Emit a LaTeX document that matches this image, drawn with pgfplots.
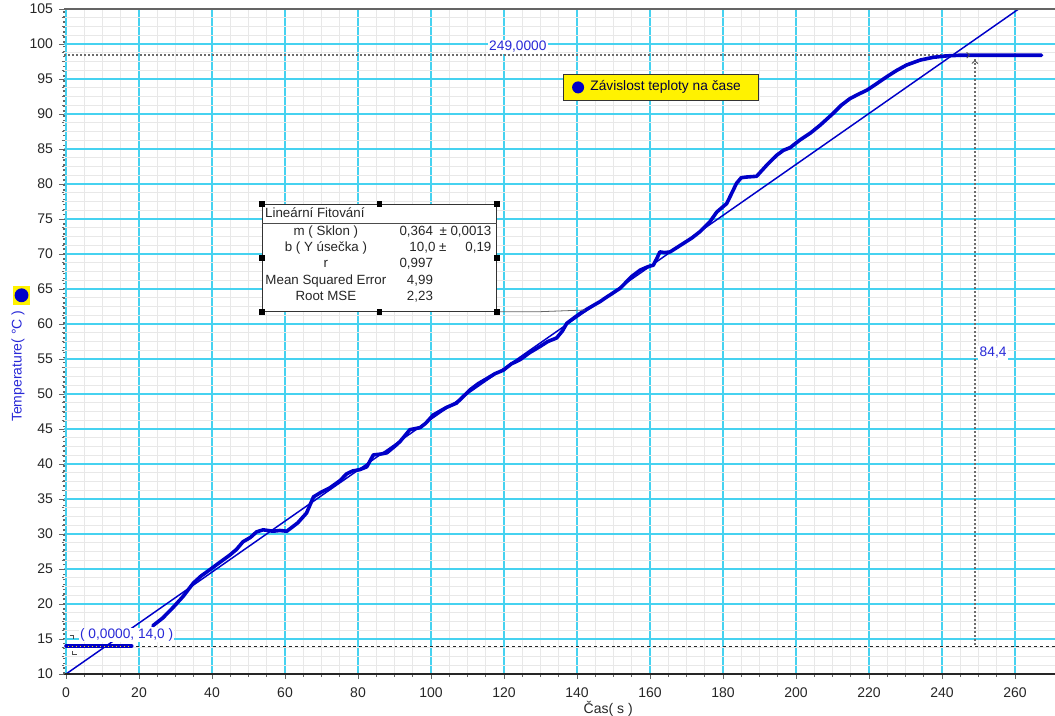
\documentclass[border=0pt]{standalone}
\usepackage{fontspec}
\setmainfont{Liberation Sans}
\usepackage{pgfplots}
\pgfplotsset{compat=1.18}
\definecolor{gridmaj}{RGB}{70,210,240}
\definecolor{gridmin}{RGB}{232,232,232}
\definecolor{dblue}{RGB}{0,0,200}
\definecolor{lblue}{RGB}{40,40,215}
\definecolor{axgray}{RGB}{100,100,100}

\pgfplotstableread{
x y
0 14.0
18 14.0
}\flatdata

\pgfplotstableread{
x y
23.8 16.9
26.5 18.0
29.5 19.6
32.1 21.1
34.9 23.0
37.0 24.0
39.4 24.9
42.0 25.9
44.9 27.0
46.7 27.8
48.5 28.9
50.5 29.5
52.2 30.3
54.0 30.6
56.7 30.4
58.6 30.5
60.5 30.4
62.0 31.0
63.5 31.6
65.9 33.0
67.8 35.3
70.0 36.0
72.3 36.6
75.0 37.6
76.9 38.6
78.5 39.0
80.5 39.2
82.4 39.6
84.2 41.3
86.0 41.4
87.9 41.6
90.0 42.5
91.5 43.2
94.2 44.9
97.0 45.2
98.5 45.8
100.6 47.0
104.3 48.1
107.0 48.7
110.7 50.6
113.0 51.5
115.3 52.2
117.5 52.9
119.8 53.4
122.0 54.3
124.4 54.9
127.0 55.9
129.9 56.8
132.0 57.5
134.4 58.0
136.0 59.0
137.2 60.1
140.8 61.5
143.0 62.2
146.3 63.2
148.0 63.8
151.8 65.1
155.0 66.8
157.3 67.7
159.5 68.2
160.9 68.4
162.0 69.5
162.7 70.3
164.0 70.2
165.5 70.3
167.0 70.8
169.1 71.5
171.5 72.3
173.7 73.2
176.4 74.6
178.3 76.0
181.0 77.2
182.5 78.8
183.7 80.1
185.0 80.9
186.5 81.0
189.2 81.1
192.0 82.7
194.7 84.1
196.5 84.8
198.4 85.2
201.1 86.3
204.0 87.3
206.6 88.4
210.2 90.1
212.5 91.3
214.8 92.2
217.0 92.8
219.4 93.4
222.0 94.3
224.8 95.3
227.5 96.2
230.3 97.0
234.0 97.7
237.6 98.1
241.3 98.3
245.0 98.4
249.0 98.4
267.3 98.4
}\curvedata

\begin{document}
\begin{tikzpicture}
\path[use as bounding box] (-48.15pt,-30.75pt) rectangle ++(791.25pt,536.25pt);
\begin{axis}[
  at={(0pt,0pt)}, anchor=south west,
  scale only axis, width=743.2pt, height=498.75pt,
  xmin=-0.5, xmax=271, ymin=10, ymax=105,
  clip=false,
  axis line style={draw=none},
  xtick={0,20,...,260}, ytick={10,15,...,105},
  minor x tick num=3, minor y tick num=3,
  grid=both,
  major grid style={gridmaj, line width=0.85pt},
  minor grid style={gridmin, line width=1pt},
  tick align=outside,
  tick pos=left,
  major tick length=3.75pt, minor tick length=2pt,
  every tick/.append style={axgray, line width=0.6pt},
  /pgf/number format/assume math mode=true,
  ticklabel style={font=\fontsize{10.5}{12}\selectfont, text=black!85},
  yticklabel style={anchor=east, inner sep=0pt, xshift=-4.5pt},
  xticklabel style={anchor=north, inner sep=0pt, yshift=-6pt},
]
% reference lines
\draw[black!85, line width=0.6pt, dash pattern=on 2.2pt off 2.2pt] (axis cs:0,14.0) -- (axis cs:271,14.0);
\draw[gray!85!black, line width=1.4pt, dash pattern=on 1.4pt off 1.6pt] (axis cs:-0.5,98.4) -- (axis cs:249,98.4);
\draw[gray!85!black, line width=1.4pt, dash pattern=on 1.4pt off 1.6pt] (axis cs:249,98.4) -- (axis cs:249,14.0);

% fit line
\addplot[dblue, line width=1.1pt] coordinates {(0,10) (261,105)};
% data
\addplot[dblue, line width=2.7pt, line join=round, line cap=round] table[x=x,y=y] {\flatdata};
\addplot[dblue, line width=2.7pt, line join=round, line cap=round] table[x=x,y=y] {\curvedata};
\draw[yellow!85!orange, line width=0.5pt, dash pattern=on 1pt off 2pt] (axis cs:0.5,14.0) -- (axis cs:18,14.0);

% axis lines
\draw[black!85, line width=1pt] (rel axis cs:0,0) -- (rel axis cs:1,0);
\draw[axgray, line width=1.5pt] (rel axis cs:0,1) -- (rel axis cs:1,1);
\draw[axgray, line width=1.2pt, dash pattern=on 1.2pt off 2.5pt] (rel axis cs:0,0) -- (rel axis cs:0,1);

% chevrons and corner marks
\draw[black!70, line width=0.6pt] ([xshift=-2.2pt,yshift=-2pt]axis cs:249,97.6) -- (axis cs:249,97.6) -- ([xshift=2.2pt,yshift=-2pt]axis cs:249,97.6);
\draw[black!70, line width=0.6pt] ([xshift=-2pt,yshift=2.2pt]axis cs:247.5,98.4) -- (axis cs:247.5,98.4) -- ([xshift=-2pt,yshift=-2.2pt]axis cs:247.5,98.4);
\draw[black!70, line width=0.5pt] (axis cs:1.0,15.5) -- ([xshift=3pt]axis cs:1.0,15.5) -- ([xshift=3pt,yshift=-2.5pt]axis cs:1.0,15.5);
\draw[black!70, line width=0.5pt] (axis cs:1.8,13.3) -- ([yshift=-2.5pt]axis cs:1.8,13.3) -- ([xshift=3pt,yshift=-2.5pt]axis cs:1.8,13.3);

% annotation labels
\node[fill=white, inner sep=1pt, text=lblue, font=\fontsize{10.3}{12}\selectfont] at (axis cs:123.8,99.6) {249,0000};
\node[fill=white, inner sep=1pt, text=lblue, font=\fontsize{10.3}{12}\selectfont] at (axis cs:254.0,55.9) {84,4};
\node[fill=white, inner sep=0.5pt, text=lblue, font=\fontsize{10.3}{12}\selectfont] at (axis cs:16.6,15.6) {( 0,0000, 14,0 )};

% legend
\draw[fill=yellow, draw=gray!40!black, line width=0.75pt] (axis cs:136.2,95.6) rectangle (axis cs:189.6,92.0);
\fill[dblue] (axis cs:140.3,93.8) circle[radius=4.5pt];
\node[anchor=mid west, inner sep=0pt, text=black!75!blue, font=\fontsize{10.3}{12}\selectfont] at (axis cs:143.6,93.8) {Závislost teploty na čase};

% fit box
\draw[gray!80!black, line width=0.6pt] (axis cs:118.0,61.76) -- (axis cs:129.9,61.76) -- (axis cs:142.2,62.0);
\draw[fill=white, draw=black!80, line width=0.6pt] (axis cs:53.8,77.1) rectangle (axis cs:118.0,61.76);
\draw[black!70, line width=0.6pt] (axis cs:53.8,74.4) -- (axis cs:118.0,74.4);
\fill[black] ([xshift=-2.2pt,yshift=-2.2pt]axis cs:53.8,77.1) rectangle ([xshift=2.2pt,yshift=2.2pt]axis cs:53.8,77.1);
\fill[black] ([xshift=-2.2pt,yshift=-2.2pt]axis cs:85.9,77.1) rectangle ([xshift=2.2pt,yshift=2.2pt]axis cs:85.9,77.1);
\fill[black] ([xshift=-2.2pt,yshift=-2.2pt]axis cs:118.0,77.1) rectangle ([xshift=2.2pt,yshift=2.2pt]axis cs:118.0,77.1);
\fill[black] ([xshift=-2.2pt,yshift=-2.2pt]axis cs:53.8,69.4) rectangle ([xshift=2.2pt,yshift=2.2pt]axis cs:53.8,69.4);
\fill[black] ([xshift=-2.2pt,yshift=-2.2pt]axis cs:118.0,69.4) rectangle ([xshift=2.2pt,yshift=2.2pt]axis cs:118.0,69.4);
\fill[black] ([xshift=-2.2pt,yshift=-2.2pt]axis cs:53.8,61.76) rectangle ([xshift=2.2pt,yshift=2.2pt]axis cs:53.8,61.76);
\fill[black] ([xshift=-2.2pt,yshift=-2.2pt]axis cs:85.9,61.76) rectangle ([xshift=2.2pt,yshift=2.2pt]axis cs:85.9,61.76);
\fill[black] ([xshift=-2.2pt,yshift=-2.2pt]axis cs:118.0,61.76) rectangle ([xshift=2.2pt,yshift=2.2pt]axis cs:118.0,61.76);
\begin{scope}[every node/.style={inner sep=0pt, text=black!85, font=\fontsize{10}{12}\selectfont}]
\node[anchor=mid west] at (axis cs:54.5,75.7) {Lineární Fitování};
\node[anchor=mid] at (axis cs:71.2,73.2) {m ( Sklon )};
\node[anchor=mid] at (axis cs:71.2,70.8) {b ( Y úsečka )};
\node[anchor=mid] at (axis cs:71.2,68.6) {r};
\node[anchor=mid] at (axis cs:71.2,66.2) {Mean Squared Error};
\node[anchor=mid] at (axis cs:71.2,63.8) {Root MSE};
\node[anchor=mid east] at (axis cs:100.6,73.2) {0,364};
\node[anchor=mid east] at (axis cs:116.6,73.2) {± 0,0013};
\node[anchor=mid east] at (axis cs:104.3,70.8) {10,0 ±};
\node[anchor=mid east] at (axis cs:116.6,70.8) {0,19};
\node[anchor=mid east] at (axis cs:100.6,68.6) {0,997};
\node[anchor=mid east] at (axis cs:100.6,66.2) {4,99};
\node[anchor=mid east] at (axis cs:100.6,63.8) {2,23};
\end{scope}

% axis titles
\node[anchor=center, inner sep=0pt, font=\fontsize{10.5}{12}\selectfont, text=black!85] at ([yshift=-25.8pt]rel axis cs:0.549,0) {Čas( s )};
\node[anchor=center, inner sep=0pt, rotate=90, font=\fontsize{10.5}{12}\selectfont, text=lblue] at ([xshift=-34.65pt]rel axis cs:0,0.463) {Temperature( °C )};
\fill[yellow] ([xshift=-38.5pt,yshift=-7pt]rel axis cs:0,0.5695) rectangle ([xshift=-25.5pt,yshift=7pt]rel axis cs:0,0.5695);
\fill[dblue] ([xshift=-32pt]rel axis cs:0,0.5695) circle[radius=5.2pt];
\end{axis}
\end{tikzpicture}
\end{document}
